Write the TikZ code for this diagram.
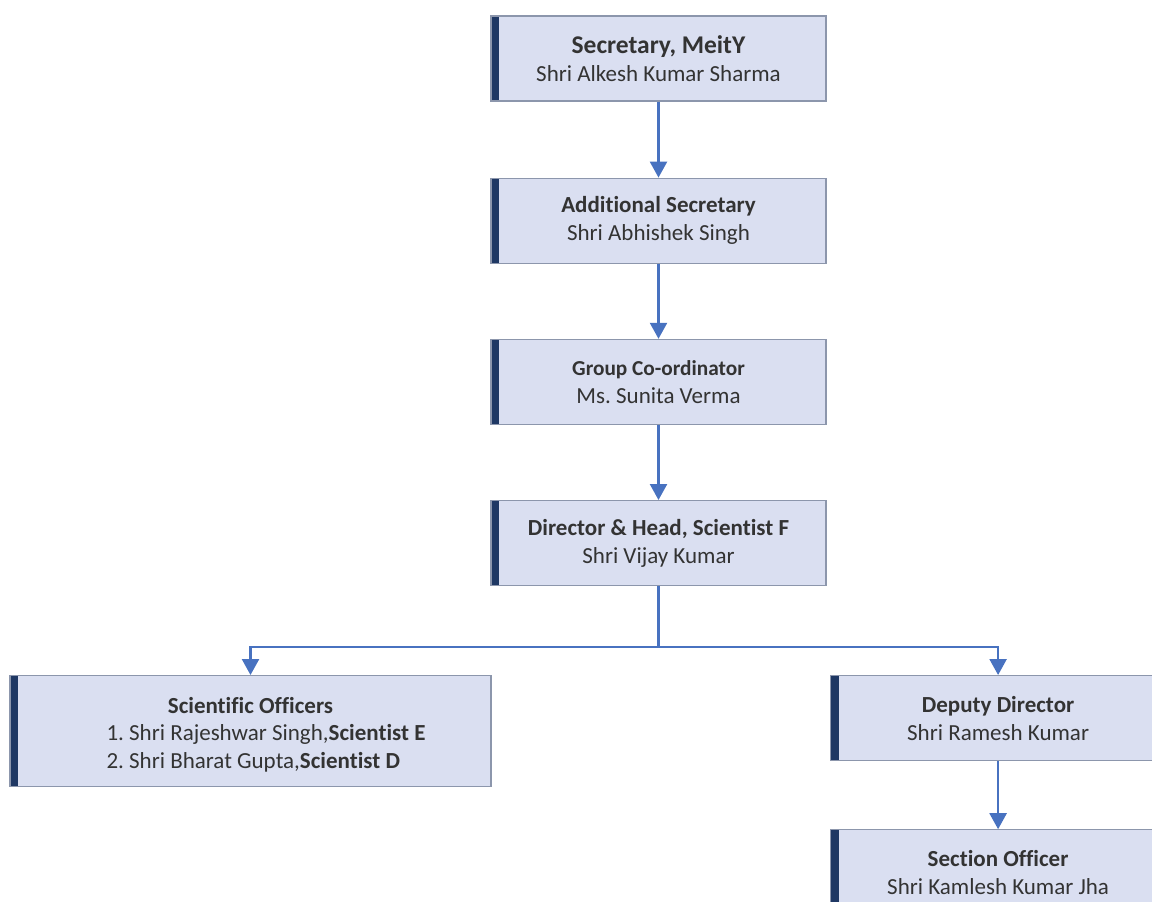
\documentclass[tikz,border=0pt]{standalone}
\usepackage{fontspec}
\setmainfont{Carlito}[Ligatures=NoCommon]
\usetikzlibrary{positioning,arrows.meta}
\frenchspacing

\definecolor{boxfill}{RGB}{218,223,241}
\definecolor{boxline}{RGB}{140,150,172}
\definecolor{barnavy}{RGB}{31,56,100}
\definecolor{linkblue}{RGB}{72,114,192}

\tikzstyle{every node}=[font=\fontsize{23}{28}\selectfont, text=black!80]

\begin{document}
\begin{tikzpicture}[
            x=1pt, y=1pt,
            post/.style={draw=boxline, line width=1.2pt, fill=boxfill,
                minimum width=335pt, minimum height=85pt, align=center,
                inner sep=0pt,
                path picture={\fill[barnavy] (path picture bounding box.north west)
                    rectangle ([xshift=8pt]path picture bounding box.south west);}},
            link/.style={draw=linkblue, line width=2.4pt, -{Triangle[width=17pt,length=16pt]}}]
        \useasboundingbox (0,0) rectangle (1152,-902);
        \node[post] (sec) at (658.5,-58.5) {{\fontsize{25.5}{28}\selectfont\bfseries Secretary, MeitY}\\Shri Alkesh Kumar Sharma};
        \node[post, below=76pt of sec] (addl) {\textbf{Additional Secretary}\\Shri Abhishek Singh};
        \node[post, below=75pt of addl] (grp) {{\fontsize{21.3}{28}\selectfont\bfseries Group Co-ordinator}\\Ms. Sunita Verma};
        \node[post, below=75pt of grp] (dir) {\textbf{Director \& Head, Scientist F}\\Shri Vijay Kumar};
        \node[post, anchor=north, minimum width=481pt, minimum height=111pt] (sci) at (250.5,-675)
            {\rule{0pt}{28pt}\textbf{Scientific Officers}\\[7pt]
             \begin{tabular}{@{\hspace{31pt}}l@{}}
             1. Shri Rajeshwar Singh,\textbf{Scientist E}\\
             2. Shri Bharat Gupta,\textbf{Scientist D}
             \end{tabular}};
        \node[post, anchor=north west] (dd) at (830,-675) {\textbf{Deputy Director}\\Shri Ramesh Kumar};
        \node[post, below=68pt of dd] (so) {\textbf{Section Officer}\\Shri Kamlesh Kumar Jha};

        \coordinate (split) at ([yshift=-61pt]dir.south);
        \draw[link] (sec) -- (addl);
        \draw[link] (addl) -- (grp);
        \draw[link] (grp) -- (dir);
        \draw[link] (dir.south) -- (split) -| (sci.north);
        \draw[link] (split) -| (dd.north);
        \draw[link] (dd) -- (so);
    \end{tikzpicture}
\end{document}
